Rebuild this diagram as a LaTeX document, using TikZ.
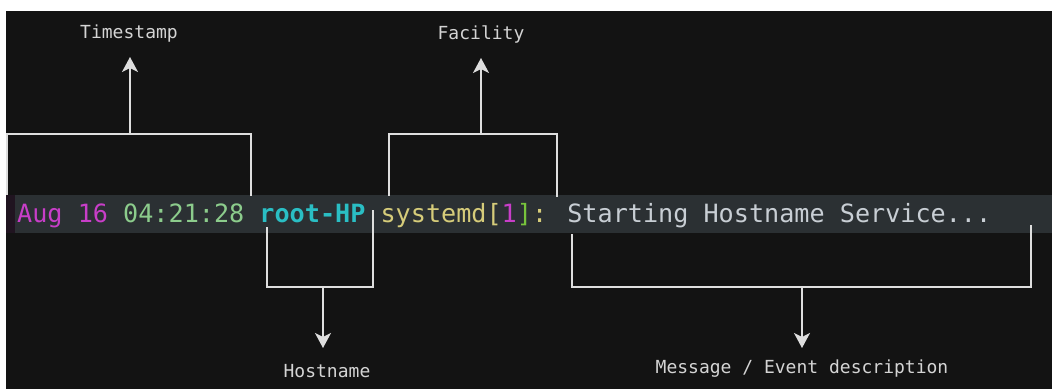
\documentclass[tikz,border=0pt]{standalone}
\usepackage{fontspec}
\usetikzlibrary{arrows.meta}
\newfontfamily\logmono{DejaVu Sans Mono}
\definecolor{pagebg}{RGB}{19,19,19}
\definecolor{barbg}{RGB}{43,48,51}
\definecolor{barmark}{RGB}{32,20,32}
\definecolor{wire}{RGB}{222,222,222}
\definecolor{labelfg}{RGB}{212,212,212}
\definecolor{logmag}{RGB}{200,62,200}
\definecolor{loggreen}{RGB}{140,204,140}
\definecolor{logcyan}{RGB}{42,190,196}
\definecolor{logyellow}{RGB}{214,204,122}
\definecolor{logbright}{RGB}{120,196,60}
\definecolor{logtext}{RGB}{200,206,212}
\tikzset{
  wirepath/.style={color=wire, line width=1.5pt},
  pointer/.style={wirepath, arrows={-Stealth[length=15pt 0, width=16pt 0, inset=4pt 0, fill=wire]}},
  fieldlabel/.style={text=labelfg, font=\logmono\fontsize{18}{20}\selectfont, inner sep=0pt},
}
\begin{document}
\begin{tikzpicture}[x=1pt,y=-1pt]
  % page and terminal background
  \useasboundingbox (0,0) rectangle (1052,389);
  \fill[white] (0,0) rectangle (1052,389);
  \fill[pagebg] (6,11) rectangle (1052,389);
  % highlighted log line
  \fill[barmark] (6,195) rectangle (15,233);
  \fill[barbg] (15,195) rectangle (1052,233);

  % the syslog line itself
  \node[anchor=base west, inner sep=0pt, font=\logmono\fontsize{25.15}{30}\selectfont] (logline) at (17,222)
    {\textcolor{logmag}{Aug 16} \textcolor{loggreen}{04:21:28} \textcolor{logcyan}{\bfseries root-HP} \textcolor{logyellow}{systemd[}\textcolor{logmag}{1}\textcolor{logbright}{]}\textcolor{logyellow}{:} \textcolor{logtext}{Starting Hostname Service...}};

  % field labels
  \node[fieldlabel] (ts)   at (129,34)  {Timestamp};
  \node[fieldlabel] (fac)  at (481,34)  {Facility};
  \node[fieldlabel] (host) at (327,371) {Hostname};
  \node[fieldlabel] (msg)  at (802,369) {Message / Event description};

  % bracket corners and arrow tips
  \coordinate (tsL) at (7,195);    \coordinate (tsR) at (251,196);
  \coordinate (tsM) at (130,134);  \coordinate (tsTip) at (130,57);
  \coordinate (facL) at (389,196); \coordinate (facR) at (557,197);
  \coordinate (facM) at (481,134); \coordinate (facTip) at (481,58);
  \coordinate (hoL) at (267,227);  \coordinate (hoR) at (373,210);
  \coordinate (hoM) at (323,287);  \coordinate (hoTip) at (323,348);
  \coordinate (msL) at (572,234);  \coordinate (msR) at (1031,225);
  \coordinate (msM) at (802,287);  \coordinate (msTip) at (802,348);

  % timestamp bracket
  \draw[wirepath] (tsL) -- (tsL |- tsM) -- (tsR |- tsM) -- (tsR);
  \draw[pointer] (tsM) -- (tsTip);
  % facility bracket
  \draw[wirepath] (facL) -- (facL |- facM) -- (facR |- facM) -- (facR);
  \draw[pointer] (facM) -- (facTip);
  % hostname bracket
  \draw[wirepath] (hoL) -- (hoL |- hoM) -- (hoR |- hoM) -- (hoR);
  \draw[pointer] (hoM) -- (hoTip);
  % message bracket
  \draw[wirepath] (msL) -- (msL |- msM) -- (msR |- msM) -- (msR);
  \draw[pointer] (msM) -- (msTip);
\end{tikzpicture}
\end{document}
